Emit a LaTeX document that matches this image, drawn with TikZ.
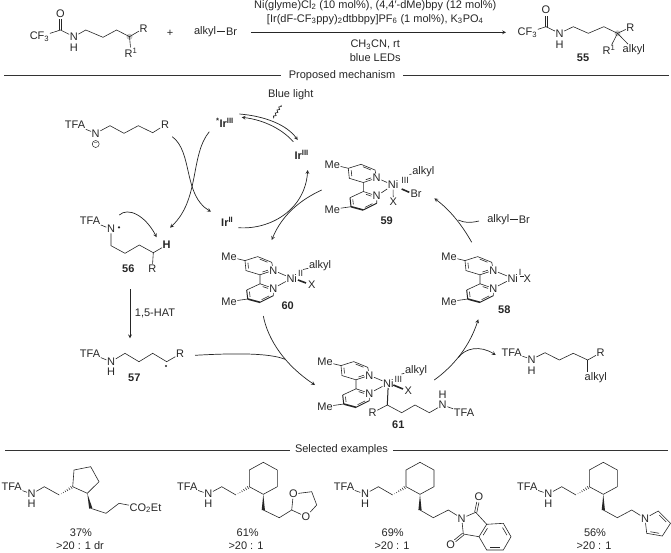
\documentclass[tikz,border=0pt]{standalone}
\usepackage{fontspec}
\setmainfont{Liberation Sans}
\usetikzlibrary{calc,decorations.pathmorphing}

% inner line of a ring double bond, pulled towards the point #4
\newcommand\dbl[4][.15]{\draw[bond] ($(#2)!#1!(#3)!.2!(#4)$) -- ($(#3)!#1!(#2)!.2!(#4)$);}
% carbonyl, from the carbon #1 to the oxygen node #2
\newcommand\cdbl[2]{
  \draw[bond,shorten >=5.5pt] ($(#1)!1.1pt!90:(#2)$) -- ($(#2)!1.1pt!-90:(#1)$);
  \draw[bond,shorten >=5.5pt] ($(#1)!1.1pt!-90:(#2)$) -- ($(#2)!1.1pt!90:(#1)$);}
\newcommand\wedgeb[2]{\fill[black!85] (#1) -- ($(#2)!1.6pt!90:(#1)$) -- ($(#2)!1.6pt!-90:(#1)$) -- cycle;}
\newcommand\hashb[2]{\foreach \hpos in {.15,.3,...,1} {
    \draw[bond,line width=.5pt] ($(#1)!\hpos!(#2)!\hpos*1.8pt!90:(#1)$) -- ($(#1)!\hpos!(#2)!\hpos*1.8pt!-90:(#1)$);}}

\tikzset{
  every node/.style={font=\fontsize{11}{13}\selectfont, text=black!85},
  atom/.style={inner sep=.5pt},
  num/.style={inner sep=1pt, font=\fontsize{11}{13}\selectfont\bfseries},
  bond/.style={draw=black!85, line width=.6pt},
  rxn/.style={draw=black!85, line width=.7pt, -stealth},
  plain/.style={draw=black!85, line width=.7pt},
  rulebar/.style={draw=black!80, line width=.8pt},
  raddot/.style={circle, fill=black!85, inner sep=0pt, minimum size=2.4pt},
  bipy/.pic={
    \node[atom] (-n1) at (13.4,-9) {N};
    \node[atom] (-n2) at (13.4,9) {N};
    \coordinate (-a2) at (0,-4.5);
    \coordinate (-a3) at (-14,-8.7);
    \coordinate (-a4) at (-15,-18.7);
    \coordinate (-a5) at (-2.3,-22.7);
    \coordinate (-a6) at (11.7,-17);
    \coordinate (-actr) at (-1,-14);
    \coordinate (-b2) at (0,4.5);
    \coordinate (-b3) at (-13.3,10.7);
    \coordinate (-b4) at (-12.3,19.7);
    \coordinate (-b5) at (0,23);
    \coordinate (-b6) at (13.4,16.3);
    \coordinate (-bctr) at (0,14);
    \node[atom] (-me1) at (-31,-22.6) {Me};
    \node[atom] (-me2) at (-31,22.4) {Me};
    \draw[bond] (-a2) -- (-n1) -- (-a6) -- (-a5) -- (-a4) -- (-a3) -- (-a2) -- (-b2) -- (-n2) -- (-b6);
    \draw[bond] (-b2) -- (-b3);
    \draw[bond,line width=1pt] (-b3) -- (-b4);
    \draw[bond,line width=1.6pt] (-b4) -- (-b5);
    \draw[bond,line width=1pt] (-b5) -- (-b6);
    \draw[bond] (-me1) -- (-a4);
    \draw[bond] (-me2) -- (-b4);
    \dbl[.25]{-a2}{-n1}{-actr}
    \dbl{-a3}{-a4}{-actr}
    \dbl{-a5}{-a6}{-actr}
    \dbl[.25]{-b2}{-n2}{-bctr}
    \dbl{-b3}{-b4}{-bctr}
    \dbl{-b5}{-b6}{-bctr}
  },
  cyhex/.pic={
    \node[atom] (-tfa) at (0,0) {TFA};
    \node[atom] (-n) at (21,7.3) {N};
    \node[atom] (-h) at (21,17.3) {H};
    \coordinate (-a) at (34.4,0);
    \coordinate (-b) at (48.7,8.3);
    \coordinate (-r1) at (62,0);
    \coordinate (-r2) at (62,-16.7);
    \coordinate (-r3) at (76,-24.4);
    \coordinate (-r4) at (90,-16.7);
    \coordinate (-r5) at (90,0);
    \coordinate (-r6) at (76,7.6);
    \coordinate (-w) at (76,23.3);
    \draw[bond] (-tfa) -- (-n) -- (-a) -- (-b);
    \draw[bond] (-r1) -- (-r2) -- (-r3) -- (-r4) -- (-r5) -- (-r6) -- cycle;
    \hashb{-b}{-r1}
    \wedgeb{-r6}{-w}
  }
}

\begin{document}
\begin{tikzpicture}[x=1pt, y=-1pt]
\useasboundingbox (0,0) rectangle (671,552);

% --- reaction ---
\node[atom] (smcf) at (39.5,36.7) {CF\textsubscript{3}};
\coordinate (smc) at (60.5,30);
\node[atom] (smo) at (60.5,13.5) {O};
\node[atom] (smn) at (73.8,36.7) {N};
\node[atom] (smh) at (73.8,47.3) {H};
\coordinate (sm1) at (85.8,30);
\coordinate (sm2) at (103,37.3);
\coordinate (sm3) at (116.6,30);
\coordinate (sm4) at (129.5,36.7);
\node[atom] (smr) at (143.7,28.3) {R};
\node[atom] (smrr) at (131,52.7) {R\textsuperscript{1}};
\fill[gray!45] (sm4) circle (3);
\draw[bond] (smcf) -- (smc) -- (smn) -- (sm1) -- (sm2) -- (sm3) -- (sm4) -- (smr);
\draw[bond] (sm4) -- (smrr);
\cdbl{smc}{smo}
\node (plus) at (170.2,33.3) {+};
\node[atom] (rxalkyl) at (205,31.7) {alkyl};
\node[atom] (rxbr) at (231.5,31.7) {Br};
\draw[plain] (rxalkyl) -- (rxbr);

\coordinate (rxa) at (250.8,32.3);
\coordinate (rxb) at (506,32.3);
\draw[rxn] (rxa) -- (rxb);
\node (cond1) at (375.2,5.5) {Ni(glyme)Cl\textsubscript{2} (10 mol\%), (4,4′-dMe)bpy (12 mol\%)};
\node (cond2) at (375.2,19.5) {[Ir(dF-CF\textsubscript{3}ppy)\textsubscript{2}dtbbpy]PF\textsubscript{6} (1 mol\%), K\textsubscript{3}PO\textsubscript{4}};
\node (cond3) at (375.2,44.5) {CH\textsubscript{3}CN, rt};
\node (cond4) at (375.2,58) {blue LEDs};

\node[atom] (prcf) at (527.4,32.7) {CF\textsubscript{3}};
\coordinate (prc) at (546,26.7);
\node[atom] (pro) at (546,10) {O};
\node[atom] (prn) at (559.6,33.3) {N};
\node[atom] (prh) at (559.6,45) {H};
\coordinate (pr1) at (573.3,26.7);
\coordinate (pr2) at (588.3,33.3);
\coordinate (pr3) at (603.8,26.7);
\coordinate (pr4) at (617.5,33.3);
\node[atom] (prr) at (630.4,27.3) {R};
\node[atom] (prrr) at (609,50) {R\textsuperscript{1}};
\node[atom] (pralkyl) at (633.7,50) {alkyl};
\node[num] (n55) at (583,57.3) {55};
\fill[gray!45] (pr4) circle (3);
\draw[bond] (prcf) -- (prc) -- (prn) -- (pr1) -- (pr2) -- (pr3) -- (pr4) -- (prr);
\draw[bond] (prrr) -- (pr4) -- (pralkyl);
\cdbl{prc}{pro}

% --- section rules ---
\node[inner xsep=8pt] (mech) at (342,75.3) {Proposed mechanism};
\coordinate (ru1) at (4,75.3);
\coordinate (ru2) at (669,75.3);
\draw[rulebar] (ru1) -- (mech);
\draw[rulebar] (mech) -- (ru2);
\node[inner xsep=5pt] (sel) at (341.5,450) {Selected examples};
\coordinate (ru3) at (5,450);
\coordinate (ru4) at (668,450);
\draw[rulebar] (ru3) -- (sel);
\draw[rulebar] (sel) -- (ru4);

% --- photoredox cycle ---
\node (blue) at (290.7,95) {Blue light};
\node[atom] (irstar) at (225,123.3) {\textbf{\textsuperscript{*}Ir\textsuperscript{III}}};
\node[atom] (irthree) at (301.7,155) {\textbf{Ir\textsuperscript{III}}};
\node[atom] (irtwo) at (227.3,221.7) {\textbf{Ir\textsuperscript{II}}};
\coordinate (wav) at (273.3,118.3);
\coordinate (wavtop) at (281,105);
\draw[bond,line width=.7pt,decorate,decoration={snake,amplitude=1pt,segment length=3.5pt}] (wavtop) -- (wav);
\coordinate (e1) at (239.3,114);
\coordinate (e2) at (297.7,140);
\coordinate (e3) at (293.3,141.7);
\coordinate (e4) at (241.7,117.3);
\draw[rxn] (e1) .. controls (265,116) and (287,125) .. (e2);
\draw[rxn] (e3) .. controls (283,130) and (265,120) .. (e4);

% substrate anion
\node[atom] (antfa) at (75,125) {TFA};
\node[atom] (ann) at (95.7,133.3) {N};
\node[draw=black!85, circle, inner sep=0pt, minimum size=7pt, line width=.5pt, font=\fontsize{7}{7}\selectfont] (anq) at (95.7,144) {−};
\coordinate (an1) at (110,125.7);
\coordinate (an2) at (124,133.3);
\coordinate (an3) at (138.3,125.7);
\coordinate (an4) at (152.7,132.7);
\node[atom] (anr) at (165,125) {R};
\draw[bond] (antfa) -- (ann) -- (an1) -- (an2) -- (an3) -- (an4) -- (anr);

% the two arcs that cross
\coordinate (k1) at (209.3,131.7);
\coordinate (k2) at (170,227.7);
\coordinate (k3) at (172.3,136.7);
\coordinate (k4) at (211,211.7);
\draw[rxn] (k1) .. controls (190,155) and (200,200) .. (k2);
\draw[rxn] (k3) .. controls (193,152) and (183,195) .. (k4);
\coordinate (k5) at (238.3,227.7);
\coordinate (k6) at (307.7,170);
\coordinate (k7) at (321.7,190);
\coordinate (k8) at (271.7,240);
\draw[rxn] (k5) .. controls (270,230) and (305,210) .. (k6);
\draw[rxn] (k7) .. controls (300,200) and (282,215) .. (k8);

% radical 56
\node[atom] (ratfa) at (90,220.7) {TFA};
\node[atom] (ran) at (111,229) {N};
\node[raddot] (radot) at (119,227.3) {};
\coordinate (ra1) at (111,245.7);
\coordinate (ra2) at (125,253.3);
\coordinate (ra3) at (139.3,245);
\coordinate (ra4) at (153.3,252.7);
\node[atom,font=\fontsize{11}{13}\selectfont\bfseries] (rah) at (166.7,245) {H};
\node[atom] (rar) at (152.3,268.3) {R};
\node[num] (n56) at (128.3,268.3) {56};
\draw[bond] (ratfa) -- (ran) -- (ra1) -- (ra2) -- (ra3) -- (ra4) -- (rah);
\draw[bond] (ra4) -- (rar);
\coordinate (hat1) at (119.3,215);
\coordinate (hat2) at (156.7,237.3);
\draw[rxn] (hat1) .. controls (128,207) and (145,215) .. (hat2);

% 1,5-HAT
\coordinate (hs) at (130,289.3);
\coordinate (he) at (130,338.3);
\draw[rxn] (hs) -- (he);
\node (hlab) at (155,313.3) {1,5-HAT};

% radical 57
\node[atom] (cratfa) at (90,353.3) {TFA};
\node[atom] (cran) at (111,361.7) {N};
\node[atom] (crah) at (111,371.7) {H};
\coordinate (cra1) at (125,353.3);
\coordinate (cra2) at (139,361.7);
\coordinate (cra3) at (152.7,353.3);
\coordinate (cra4) at (166.7,361.7);
\node[atom] (crar) at (180,354) {R};
\node[raddot] (cradot) at (166,366) {};
\node[num] (n57) at (134.3,377.3) {57};
\draw[bond] (cratfa) -- (cran) -- (cra1) -- (cra2) -- (cra3) -- (cra4) -- (crar);

% --- nickel complexes ---
% 59
\pic (cxa) at (363.3,187) {bipy};
\node[atom] (nia) at (393,185) {Ni};
\node[atom] (ia) at (405,180) {\fontsize{9}{9}\selectfont III};
\node[atom] (alka) at (423.3,171.7) {alkyl};
\node[atom] (bra) at (416,193.3) {Br};
\node[atom] (xa) at (393.3,201.7) {X};
\node[num] (n59) at (386.7,221) {59};
\draw[bond] (cxa-n1) -- (nia) -- (cxa-n2);
\draw[bond] (nia) -- (xa);
\coordinate (wa1) at (401.7,189);
\coordinate (wa2) at (409.3,192.3);
\draw[bond,line width=1.6pt] (wa1) -- (wa2);
\coordinate (ta1) at (409.5,174.5);
\draw[bond] (ta1) -- (alka);

% 60
\pic (cxb) at (260,279.3) {bipy};
\node[atom] (nib) at (291.7,278.3) {Ni};
\node[atom] (ib) at (300.5,273) {\fontsize{9}{9}\selectfont II};
\node[atom] (alkb) at (320,265.7) {alkyl};
\node[atom] (xb) at (311.7,285) {X};
\node[num] (n60) at (287.7,306) {60};
\draw[bond] (cxb-n1) -- (nib) -- (cxb-n2);
\coordinate (wb1) at (298,280);
\coordinate (wb2) at (306,283);
\draw[bond,line width=1.6pt] (wb1) -- (wb2);
\coordinate (tb1) at (303,269.5);
\draw[bond] (tb1) -- (alkb);

% 58
\pic (cxc) at (480,279.3) {bipy};
\node[atom] (nic) at (512.7,278.3) {Ni};
\node[atom] (ic) at (520,272.5) {\fontsize{9}{9}\selectfont I};
\node[atom] (xc) at (527.3,278.3) {X};
\node[num] (n58) at (504.3,310) {58};
\draw[bond] (cxc-n1) -- (nic) -- (cxc-n2);
\coordinate (tc1) at (520,276);
\coordinate (tc2) at (523.5,276);
\draw[bond] (tc1) -- (tc2);

% 61
\pic (cxd) at (356,384.3) {bipy};
\node[atom] (nid) at (388.3,383.3) {Ni};
\node[atom] (id) at (398.3,379) {\fontsize{9}{9}\selectfont III};
\node[atom] (alkd) at (416,370.7) {alkyl};
\node[atom] (xd) at (408.3,390.7) {X};
\node[num] (n61) at (398.3,425) {61};
\draw[bond] (cxd-n1) -- (nid) -- (cxd-n2);
\coordinate (wd1) at (393.3,385);
\coordinate (wd2) at (403,389);
\draw[bond,line width=1.6pt] (wd1) -- (wd2);
\coordinate (td1) at (401.5,374);
\draw[bond] (td1) -- (alkd);
\coordinate (ch1) at (387.3,405);
\node[atom] (chr) at (372.7,412.7) {R};
\coordinate (ch2) at (401.7,412.7);
\coordinate (ch3) at (415,405);
\coordinate (ch4) at (429.3,412.7);
\node[atom] (chn) at (442.7,405) {N};
\node[atom] (chh) at (442.7,395) {H};
\node[atom] (chtfa) at (464,412.7) {TFA};
\draw[bond,line width=1pt] (nid) -- (ch1);
\draw[bond] (chr) -- (ch1) -- (ch2) -- (ch3) -- (ch4) -- (chn) -- (chtfa);

% --- arrows of the nickel cycle ---
\coordinate (m1) at (195,355.3);
\coordinate (m2) at (285,359.3);
\draw[plain] (m1) .. controls (235,353) and (270,353) .. (m2);
\coordinate (m3) at (263.3,316);
\coordinate (m4) at (315,385);
\draw[rxn] (m3) .. controls (268,340) and (285,365) .. (m4);

\node[atom] (inalk) at (498.3,219.3) {alkyl};
\node[atom] (inbr) at (524.3,219.3) {Br};
\draw[plain] (inalk) -- (inbr);
\coordinate (g1) at (479,221);
\coordinate (g2) at (458.3,220);
\draw[plain] (g1) .. controls (470,223) and (465,223) .. (g2);
\coordinate (g3) at (471.7,242.3);
\coordinate (g4) at (434.3,198.3);
\draw[rxn] (g3) .. controls (462,225) and (450,210) .. (g4);

\coordinate (j1) at (434.3,380);
\coordinate (j2) at (478.3,319.3);
\draw[rxn] (j1) .. controls (455,365) and (470,345) .. (j2);
\coordinate (j3) at (458.3,357.7);
\coordinate (j4) at (495.7,355);
\draw[rxn] (j3) .. controls (465,348) and (480,345) .. (j4);

% released product
\node[atom] (otfa) at (511.7,352.7) {TFA};
\node[atom] (on) at (531.7,359.3) {N};
\node[atom] (oh) at (531.7,371) {H};
\coordinate (o1) at (545,352.7);
\coordinate (o2) at (559.3,360);
\coordinate (o3) at (573.3,353.3);
\coordinate (o4) at (587.7,360);
\node[atom] (or) at (600.7,352.7) {R};
\node[atom] (oalk) at (595.7,377.3) {alkyl};
\draw[bond] (otfa) -- (on) -- (o1) -- (o2) -- (o3) -- (o4) -- (or);
\coordinate (o5) at (587.7,371.7);
\draw[bond] (o4) -- (o5);

% --- selected examples ---
% cyclopentane
\node[atom] (fatfa) at (11.7,486.7) {TFA};
\node[atom] (fan) at (31.7,494) {N};
\node[atom] (fah) at (31.7,504) {H};
\coordinate (fa1) at (44.3,486.7);
\coordinate (fa2) at (59.3,495);
\coordinate (fr1) at (72.7,486.7);
\coordinate (fr2) at (74,470);
\coordinate (fr3) at (90.7,466.7);
\coordinate (fr4) at (99,481.7);
\coordinate (fr5) at (87.3,493.3);
\coordinate (fw) at (90.7,508.3);
\coordinate (fb1) at (106,513.3);
\coordinate (fb2) at (119,503.3);
\node[atom,anchor=west] (faco) at (129,508.3) {CO\textsubscript{2}Et};
\draw[bond] (fatfa) -- (fan) -- (fa1) -- (fa2);
\draw[bond] (fr1) -- (fr2) -- (fr3) -- (fr4) -- (fr5) -- cycle;
\hashb{fa2}{fr1}
\wedgeb{fr5}{fw}
\draw[bond] (fw) -- (fb1) -- (fb2) -- (faco);
\node[atom] (ya) at (81,532.5) {37\%};
\node[atom] (da) at (80,545.5) {>20 : 1 dr};

% dioxolane
\pic (exb) at (187.3,486.7) {cyhex};
\coordinate (gb1) at (279.3,517.7);
\coordinate (gb2) at (291.7,510);
\node[atom] (go1) at (293.3,494) {O};
\node[atom] (go2) at (306,516.7) {O};
\coordinate (gb3) at (311.7,491.7);
\coordinate (gb4) at (316.7,505);
\draw[bond] (exb-w) -- (gb1) -- (gb2) -- (go1) -- (gb3) -- (gb4) -- (go2) -- (gb2);
\node[atom] (yb) at (247.7,532.5) {61\%};
\node[atom] (db) at (246,545.5) {>20 : 1};

% phthalimide
\pic (exc) at (344,486.7) {cyhex};
\coordinate (hb1) at (433.3,517.7);
\coordinate (hb2) at (448.3,510);
\node[atom] (hn) at (461.7,518.3) {N};
\coordinate (hc1) at (475.7,512.3);
\coordinate (hc2) at (463.3,534);
\node[atom] (ho1) at (479,496.7) {O};
\node[atom] (ho2) at (450.7,544.3) {O};
\coordinate (hr1) at (486.7,524.3);
\coordinate (hr2) at (503.3,523.3);
\coordinate (hr3) at (511,536.7);
\coordinate (hr4) at (503.3,550);
\coordinate (hr5) at (486.7,550);
\coordinate (hr6) at (479,536.7);
\coordinate (hctr) at (495,536.7);
\draw[bond] (exc-w) -- (hb1) -- (hb2) -- (hn) -- (hc1) -- (hr1) -- (hr2) -- (hr3) -- (hr4) -- (hr5) -- (hr6) -- (hr1);
\draw[bond] (hn) -- (hc2) -- (hr6);
\cdbl{hc1}{ho1}
\cdbl{hc2}{ho2}
\dbl{hr2}{hr3}{hctr}
\dbl{hr4}{hr5}{hctr}
\dbl{hr6}{hr1}{hctr}
\node[atom] (yc) at (392.7,532.5) {69\%};
\node[atom] (dc) at (392,545.5) {>20 : 1};

% pyrrole
\pic (exd) at (527.3,486.7) {cyhex};
\coordinate (ib1) at (617.3,517.7);
\coordinate (ib2) at (631.7,510);
\node[atom] (in) at (645,518.3) {N};
\coordinate (ip1) at (658.3,511);
\coordinate (ip2) at (670.5,523.3);
\coordinate (ip3) at (662.3,536);
\coordinate (ip4) at (646.7,533.3);
\coordinate (ipc) at (656,524);
\draw[bond] (exd-w) -- (ib1) -- (ib2) -- (in) -- (ip1) -- (ip2) -- (ip3) -- (ip4) -- (in);
\dbl{ip1}{ip2}{ipc}
\dbl{ip3}{ip4}{ipc}
\node[atom] (yd) at (595,532.5) {56\%};
\node[atom] (dd) at (594,545.5) {>20 : 1};
\end{tikzpicture}
\end{document}
